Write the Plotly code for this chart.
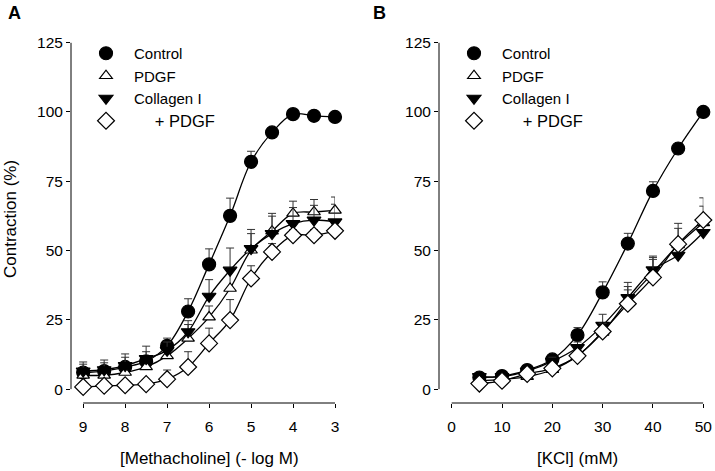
import plotly.graph_objects as go

# ---- data ----
# Panel A: methacholine, -log M
mch_x = [9, 8.5, 8, 7.5, 7, 6.5, 6, 5.5, 5, 4.5, 4, 3.5, 3]
mch_control = [6, 6.5, 8, 10, 15.6, 28, 45, 62.5, 82, 92.6, 99.2, 98.6, 98.2]
mch_control_err = [3, 3, 3.5, 3.5, 2.8, 4.6, 5.6, 6.4, 3.8, 1.5, 1, 1, 1]
mch_pdgf = [5, 5, 6, 8, 12, 18.3, 26, 36.3, 50.1, 57, 63.4, 63.9, 64.5]
mch_pdgf_err = [2.5, 2.5, 3, 3, 3, 5, 4, 6.5, 6, 6.4, 4.4, 4.5, 4.8]
mch_coll = [6.5, 7, 8.5, 11, 14, 20.7, 33.5, 42.9, 50.7, 56.1, 59.7, 61, 60.3]
mch_coll_err = [3.3, 3.5, 4.2, 4.5, 3, 4, 6, 8, 6.9, 6.3, 5.8, 5.3, 6.4]
mch_coll_pdgf = [0.8, 1.2, 1.4, 1.8, 3.6, 8.0, 16.5, 24.9, 39.9, 49.5, 55.5, 55.5, 57.1]
mch_coll_pdgf_err = [1.5, 1.5, 1, 1, 3.3, 5.5, 5.5, 7.4, 4.6, 3, 2, 2, 2]

# Panel B: KCl, mM
kcl_x = [5.5, 10, 15, 20, 25, 30, 35, 40, 45, 50]
kcl_control = [4.2, 4.7, 6.9, 10.7, 19.5, 34.9, 52.5, 71.5, 86.8, 100]
kcl_control_err = [1, 1, 1, 1.5, 2.7, 3.8, 3.7, 3.3, 1, 1]
kcl_pdgf = [3, 3.5, 4.5, 7, 12, 20.5, 32, 42, 52, 60]
kcl_pdgf_err = [1, 1, 1, 1, 2, 3, 5, 6, 6, 6]
kcl_coll = [4.5, 4.5, 6.5, 10, 15, 23, 33, 43, 48.3, 56.5]
kcl_coll_err = [1, 1, 1, 1.5, 2, 4, 5.5, 4.5, 4, 6]
kcl_coll_pdgf = [2, 3, 5.5, 7.5, 12, 20.8, 30.8, 40.3, 52.3, 61]
kcl_coll_pdgf_err = [1, 1, 1, 1.5, 2, 3, 5, 6.5, 7.5, 8]

y_ticks = [0, 25, 50, 75, 100, 125]
mch_ticks = [9, 8, 7, 6, 5, 4, 3]
kcl_ticks = [0, 10, 20, 30, 40, 50]

FONT = "Arial, Liberation Sans, sans-serif"
W, H = 715, 471

# marker styles per series: (name, symbol, fill, size)
STYLES = [
    ("Control", "circle", "black", 13),
    ("PDGF", "triangle-up", "white", 11),
    ("Collagen I", "triangle-down", "black", 12),
    ("\u00a0\u00a0\u00a0\u00a0\u00a0<span style='font-size:16.5px'>+ PDGF</span>",
     "diamond", "white", 13),
]


def px_x(p):
    return p / W


def px_y(p):
    return 1 - p / H


fig = go.Figure()


def add_panel(xs, series, xaxis, yaxis, legend):
    # fitted curves first (under the markers)
    for ys, _ in series:
        fig.add_trace(go.Scatter(
            x=xs, y=ys, mode="lines", line=dict(color="black", width=1.3,
                                                shape="spline", smoothing=1.0),
            xaxis=xaxis, yaxis=yaxis, showlegend=False, hoverinfo="skip",
            cliponaxis=False,
        ))
    for (ys, err), (name, sym, fill, size) in zip(series, STYLES):
        fig.add_trace(go.Scatter(
            x=xs, y=ys, mode="markers", name=name,
            marker=dict(symbol=sym, size=size, color=fill,
                        line=dict(color="black", width=1.2)),
            error_y=dict(type="data", array=err, arrayminus=[0] * len(err),
                         symmetric=False, color="#333", thickness=1, width=4),
            xaxis=xaxis, yaxis=yaxis, legend=legend, cliponaxis=False,
        ))


add_panel(mch_x, [(mch_control, mch_control_err), (mch_pdgf, mch_pdgf_err),
                  (mch_coll, mch_coll_err), (mch_coll_pdgf, mch_coll_pdgf_err)],
          "x", "y", "legend")
add_panel(kcl_x, [(kcl_control, kcl_control_err), (kcl_pdgf, kcl_pdgf_err),
                  (kcl_coll, kcl_coll_err), (kcl_coll_pdgf, kcl_coll_pdgf_err)],
          "x2", "y2", "legend2")

y_dom = [px_y(403), px_y(42.6)]
axis_common = dict(showgrid=False, zeroline=False, showline=False, ticks="outside",
                   ticklen=4, tickwidth=1, tickcolor="black", automargin=False,
                   tickfont=dict(family=FONT, size=15.5, color="black"))

legend_common = dict(xanchor="left", yanchor="top", bgcolor="rgba(0,0,0,0)",
                     itemwidth=46, borderwidth=0, tracegroupgap=0,
                     font=dict(family=FONT, size=15, color="black"))

fig.update_layout(
    template="none",
    width=W, height=H, margin=dict(l=0, r=0, t=0, b=0, pad=0),
    paper_bgcolor="white", plot_bgcolor="white",
    font=dict(family=FONT, color="black"),
    xaxis=dict(domain=[px_x(71), px_x(335)], range=[9.29, 3], tickvals=mch_ticks,
               anchor="y", ticklabelstandoff=5, **axis_common),
    yaxis=dict(domain=y_dom, range=[-5, 125], tickvals=y_ticks, anchor="x",
               **axis_common),
    xaxis2=dict(domain=[px_x(439), px_x(703.3)], range=[-2.52, 50], tickvals=kcl_ticks,
                anchor="y2", ticklabelstandoff=5, **axis_common),
    yaxis2=dict(domain=y_dom, range=[-5, 125], tickvals=y_ticks, anchor="x2",
                **axis_common),
    legend=dict(x=px_x(78), y=px_y(37), **legend_common),
    legend2=dict(x=px_x(446), y=px_y(37), **legend_common),
)

# axis lines span only the labelled range, as in the original figure
line = dict(color="black", width=1)
for xa, ya, x0, x1 in [("x", "y", 9, 3), ("x2", "y2", 0, 50)]:
    fig.add_shape(type="line", xref=f"{xa} domain", yref=ya, x0=0, x1=0, y0=0, y1=125,
                  line=line)
    fig.add_shape(type="line", xref=xa, yref=f"{ya} domain", x0=x0, x1=x1, y0=0, y1=0,
                  line=line)

title_font = dict(family=FONT, size=17, color="black")
centered = dict(xref="paper", yref="paper", showarrow=False,
                xanchor="center", yanchor="middle")
fig.add_annotation(text="[Methacholine] (- log M)", x=px_x(209), y=px_y(458),
                   font=title_font, **centered)
fig.add_annotation(text="[KCl] (mM)", x=px_x(577), y=px_y(458),
                   font=title_font, **centered)
fig.add_annotation(text="Contraction (%)", x=px_x(10), y=px_y(219), textangle=-90,
                   font=title_font, **centered)
for label, xp in [("A", 14.5), ("B", 379.5)]:
    fig.add_annotation(text=f"<b>{label}</b>", x=px_x(xp), y=px_y(13),
                       font=dict(family=FONT, size=18, color="black"), **centered)

# the page's default 8px body margin would push the 715x471 figure out of the window
fig.write_html("out.html", config={"displayModeBar": False},
               post_script="document.body.style.margin='0';")
